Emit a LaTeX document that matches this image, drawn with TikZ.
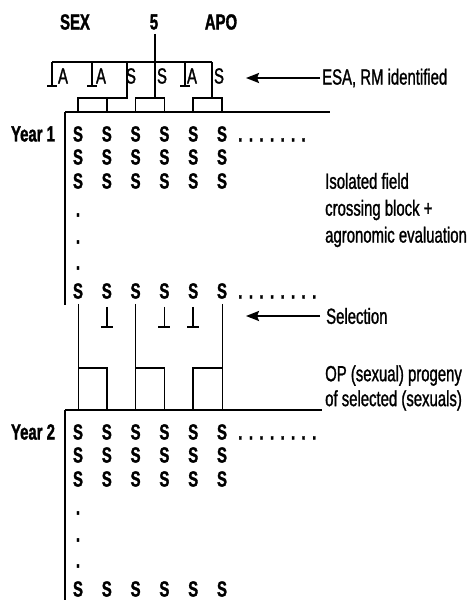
\documentclass[tikz,border=0pt]{standalone}
\usepackage{fontspec}
\setmainfont{Liberation Sans}[FakeStretch=0.68, UprightFeatures={FakeBold=1.2}, BoldFeatures={FakeBold=1.5}]
\usetikzlibrary{arrows.meta}
\tikzset{
  plant/.style={font=\bfseries\fontsize{22}{26}\selectfont},
  clone/.style={font=\fontsize{22}{26}\selectfont},
  note/.style={font=\fontsize{22}{27}\selectfont, anchor=west, align=left},
  link/.style={black, line width=1.5bp},
  fine link/.style={black, line width=1bp},
  field/.style={black, line width=2bp},
  pointer/.style={black, line width=2.2bp, -{Stealth[length=13bp,width=10bp,inset=2bp]}},
}
\newcommand{\plantdots}[1]{\foreach \i in {1,...,#1}{.\kern6.4bp}}

\begin{document}
\begin{tikzpicture}[x=1bp, y=-1bp]
    \tikzstyle{every node}+=[inner sep=0pt]
    \useasboundingbox (0,0) rectangle (476,600);
    \node[plant] (sex) at (75,22) {SEX};
    \node[plant] (five) at (154,22) {5};
    \node[plant] (apo) at (221,22) {APO};
    \node[clone] (k1) at (63,76) {A};
    \node[clone] (k2) at (101,76) {A};
    \node[clone] (k3) at (131,76) {S};
    \node[clone] (k4) at (162,76) {S};
    \node[clone] (k5) at (192,76) {A};
    \node[clone] (k6) at (219,76) {S};
    \coordinate (t1) at (52,62);
    \coordinate (t2) at (92,62);
    \coordinate (t3) at (127,62);
    \coordinate (t5) at (185,62);
    \coordinate (t6) at (212,62);
    \coordinate (yr1) at (65,112);
    \coordinate (yr2) at (65,410);
    \foreach \yr/\yl in {1/112, 2/410} {
        \node[plant] at (33,\yl+22) (year\yr) {Year \yr};
        \foreach \r/\dy in {1/22, 2/45, 3/69, 4/179}
            \foreach \c in {1,...,6}
                \node[plant] (y\yr r\r c\c) at ({78+28.8*(\c-1)},{\yl+\dy}) {S};
        \foreach \d/\dy in {1/103, 2/130, 3/156}
            \node[plant] (y\yr d\d) at (78,{\yl+\dy}) {.};
    }
    \node[plant, anchor=base west] (dots1) at ([xshift=11bp]y1r1c6.base east) {\plantdots{7}};
    \node[plant, anchor=base west] (dots2) at ([xshift=11bp]y1r4c6.base east) {\plantdots{8}};
    \node[plant, anchor=base west] (dots3) at ([xshift=11bp]y2r1c6.base east) {\plantdots{8}};
    \node[note] (esa) at (322,78) {ESA, RM identified};
    \node[note] (isolated) at (325,210) {Isolated field\\crossing block +\\agronomic evaluation};
    \node[note] (selection) at (326,316) {Selection};
    \node[note, font=\fontsize{22}{25}\selectfont] (progeny) at (325,388) {OP (sexual) progeny\\of selected (sexuals)};
    \draw[pointer] ([xshift=-2bp]esa.west) -- ++(-74,0);
    \draw[pointer] ([xshift=-6bp]selection.west) -- ++(-74,0);
    \draw[link] (t1) -- (t6);
    \draw[link] (t1) -- ++(0,24) ++(-5,0) -- ++(10,0);
    \draw[link] (t2) -- ++(0,24) ++(-5,0) -- ++(10,0);
    \draw[link] (t5) -- ++(0,24) ++(-5,0) -- ++(10,0);
    \draw[link] (t3) -- ++(0,36) -| (y1r1c1 |- yr1);
    \draw[link] (y1r1c2 |- 0,98) -- (y1r1c2 |- yr1);
    \draw[link] (five.south) ++(1,4) -- (155,98);
    \draw[link] (y1r1c3 |- yr1) |- (0,98 -| y1r1c4) -- (y1r1c4 |- yr1);
    \draw[link] (t6) -- ++(0,36);
    \draw[link] (y1r1c5 |- yr1) |- (0,98 -| y1r1c6) -- (y1r1c6 |- yr1);
    \draw[field] (yr1) -- (330,112);
    \draw[field] (yr1) -- (65,305);
    \draw[field] (yr2) -- (322,410);
    \draw[field] (yr2) -- (65,600);
    \draw[fine link] ([yshift=-5bp]y1r4c1.south) -- (y1r4c1 |- yr2);
    \draw[fine link] ([yshift=-5bp]y1r4c3.south) -- (y1r4c3 |- yr2);
    \draw[fine link] ([yshift=-5bp]y1r4c6.south) -- (y1r4c6 |- yr2);
    \draw[link] ([yshift=-8bp]y1r4c2.south) -- ++(0,20) ++(-6,0) -- ++(12,0);
    \draw[link] ([yshift=-8bp]y1r4c4.south) -- ++(0,20) ++(-6,0) -- ++(12,0);
    \draw[link] ([yshift=-8bp]y1r4c5.south) -- ++(0,20) ++(-6,0) -- ++(12,0);
    \draw[link] (y1r4c1 |- 0,368) -| (y1r4c2 |- yr2);
    \draw[link] (y1r4c3 |- 0,368) -| (y1r4c4 |- yr2);
    \draw[link] (y1r4c5 |- yr2) |- (y1r4c6 |- 0,368);
\end{tikzpicture}
\end{document}
